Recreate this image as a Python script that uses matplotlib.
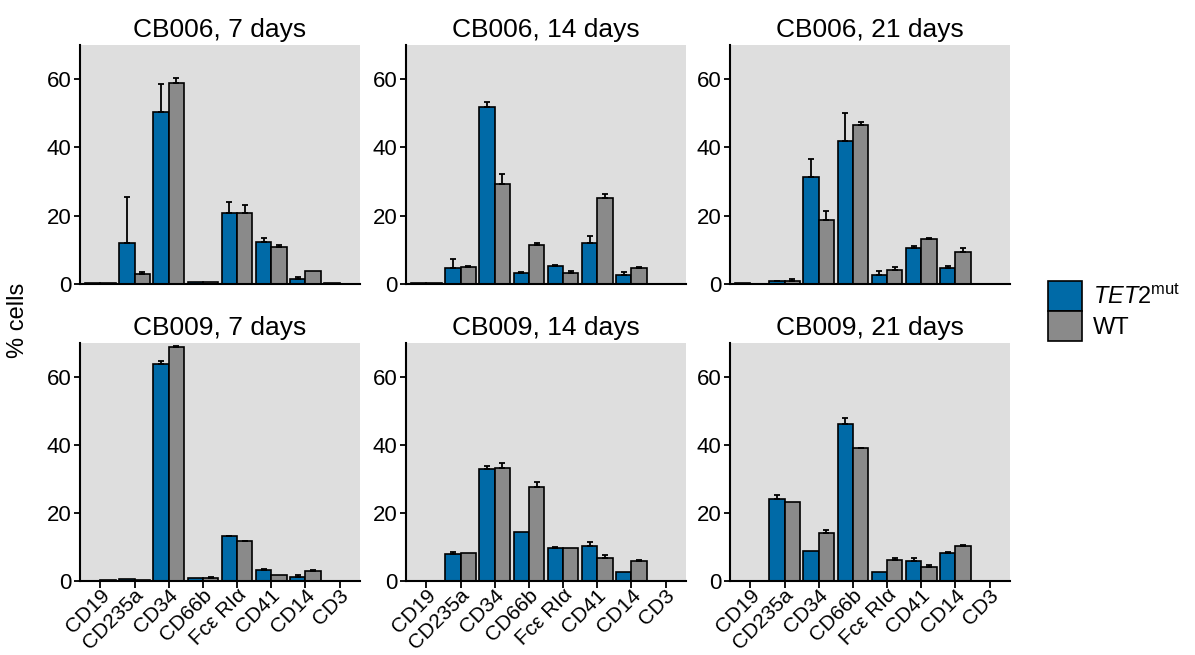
import matplotlib
matplotlib.use('Agg')
import matplotlib.pyplot as plt
import matplotlib.transforms as mtransforms
from matplotlib.patches import Patch
import numpy as np

plt.rcParams['font.family'] = ['Liberation Sans', 'DejaVu Sans']
plt.rcParams['mathtext.fontset'] = 'custom'
plt.rcParams['mathtext.rm'] = 'Liberation Sans'
plt.rcParams['mathtext.it'] = 'Liberation Sans:italic'

markers = ['CD19', 'CD235a', 'CD34', 'CD66b', 'Fc\u03b5 RI\u03b1', 'CD41', 'CD14', 'CD3']
titles = ['CB006, 7 days', 'CB006, 14 days', 'CB006, 21 days',
          'CB009, 7 days', 'CB009, 14 days', 'CB009, 21 days']

# mean % cells, TET2 mutant (blue) per panel
tet2_mean = [
    [0.3, 12.1, 50.5, 0.5, 20.9, 12.2, 1.6, 0.3],
    [0.4, 4.7, 51.8, 3.2, 5.3, 12.1, 2.7, 0.1],
    [0.2, 0.8, 31.3, 41.8, 2.6, 10.6, 4.7, 0.1],
    [0.1, 0.6, 63.8, 0.8, 13.2, 3.2, 1.3, 0.0],
    [0.0, 7.9, 33.0, 14.5, 9.6, 10.3, 2.6, 0.0],
    [0.0, 24.1, 8.8, 46.2, 2.6, 6.0, 8.1, 0.0],
]
tet2_err = [
    [0, 13.3, 8.2, 0, 3.1, 1.3, 0.5, 0],
    [0, 2.6, 1.5, 0.4, 0.3, 1.9, 0.7, 0],
    [0, 0.1, 5.4, 8.3, 1.3, 0.6, 0.6, 0],
    [0, 0, 1.0, 0, 0.1, 0.3, 0.4, 0],
    [0, 0.7, 0.7, 0, 0.5, 1.1, 0, 0],
    [0, 1.1, 0, 1.8, 0, 0.8, 0.5, 0],
]
# mean % cells, WT (gray) per panel
wt_mean = [
    [0.2, 3.0, 58.9, 0.6, 20.9, 10.7, 3.9, 0.1],
    [0.3, 4.9, 29.3, 11.5, 3.3, 25.2, 4.8, 0.1],
    [0.1, 0.9, 18.6, 46.6, 4.1, 13.1, 9.4, 0.1],
    [0.2, 0.4, 68.8, 0.9, 11.7, 1.7, 3.0, 0.0],
    [0.0, 8.3, 33.3, 27.6, 9.7, 6.8, 5.8, 0.0],
    [0.0, 23.2, 14.0, 39.0, 6.2, 4.2, 10.4, 0.0],
]
wt_err = [
    [0, 0.6, 1.4, 0, 2.1, 0.6, 0, 0],
    [0, 0.3, 3.0, 0.5, 0.6, 1.2, 0.1, 0],
    [0, 0.5, 2.9, 0.9, 1.0, 0.5, 1.2, 0],
    [0, 0, 0.3, 0.3, 0.2, 0, 0.3, 0],
    [0, 0, 1.4, 1.6, 0, 0.9, 0.3, 0],
    [0, 0, 1.1, 0.2, 0.6, 0.6, 0.3, 0],
]

BLUE = '#006AA7'
GRAY = '#8A8A8A'
BG = '#DEDEDE'

W, H = 1195, 655
fig = plt.figure(figsize=(W / 100, H / 100), dpi=100)

col_left = [80, 406, 730]
ax_w = 280
row_top = [45, 343]
row_bottom = [284, 581]

x = np.arange(len(markers))
bw = 0.45


def add_bars(ax, xs, means, errs, color):
    ax.bar(xs, means, width=bw, color=color, edgecolor='black', linewidth=1.2, zorder=2)
    e = np.array(errs)
    m = e > 0
    if m.any():
        ax.errorbar(xs[m], np.array(means)[m], yerr=[np.zeros(m.sum()), e[m]],
                    fmt='none', ecolor='black', elinewidth=1.3, capsize=2.5,
                    capthick=1.3, zorder=3)


shift = mtransforms.ScaledTranslation(6 / 100, 0, fig.dpi_scale_trans)

for i in range(6):
    r, c = divmod(i, 3)
    left = col_left[c] / W
    bottom = 1 - row_bottom[r] / H
    height = (row_bottom[r] - row_top[r]) / H
    ax = fig.add_axes([left, bottom, ax_w / W, height])
    ax.set_facecolor(BG)
    add_bars(ax, x - bw / 2, tet2_mean[i], tet2_err[i], BLUE)
    add_bars(ax, x + bw / 2, wt_mean[i], wt_err[i], GRAY)
    ax.set_xlim(-0.6, 7.6)
    ax.set_ylim(0, 70)
    ax.set_yticks([0, 20, 40, 60])
    ax.spines['top'].set_visible(False)
    ax.spines['right'].set_visible(False)
    for s in ('left', 'bottom'):
        ax.spines[s].set_linewidth(1.5)
        ax.spines[s].set_zorder(5)
    ax.tick_params(axis='y', labelsize=16, length=4, width=1.3, pad=2)
    ax.set_title(titles[i], fontsize=19, pad=6)
    ax.set_xticks(x)
    if r == 1:
        ax.set_xticklabels(markers, rotation=45, ha='right', va='center',
                           rotation_mode='anchor', fontsize=15)
        ax.tick_params(axis='x', length=5, width=1.3, pad=3)
        for lab in ax.get_xticklabels():
            lab.set_transform(lab.get_transform() + shift)
    else:
        ax.tick_params(axis='x', length=0, labelbottom=False)

fig.text(18 / W, 1 - 320 / H, '% cells', rotation=90, fontsize=17,
         ha='center', va='center')

handles = [Patch(facecolor=BLUE, edgecolor='black', linewidth=1.2),
           Patch(facecolor=GRAY, edgecolor='black', linewidth=1.2)]
fig.legend(handles, [r'$\mathit{TET2}^{\mathrm{mut}}$', 'WT'],
           loc='upper left', bbox_to_anchor=(1048 / W, 1 - 281 / H),
           frameon=False, fontsize=17, handlelength=1.45, handleheight=1.55,
           labelspacing=0.02, handletextpad=0.45, borderpad=0, borderaxespad=0)

fig.savefig('out.png', dpi=100)
